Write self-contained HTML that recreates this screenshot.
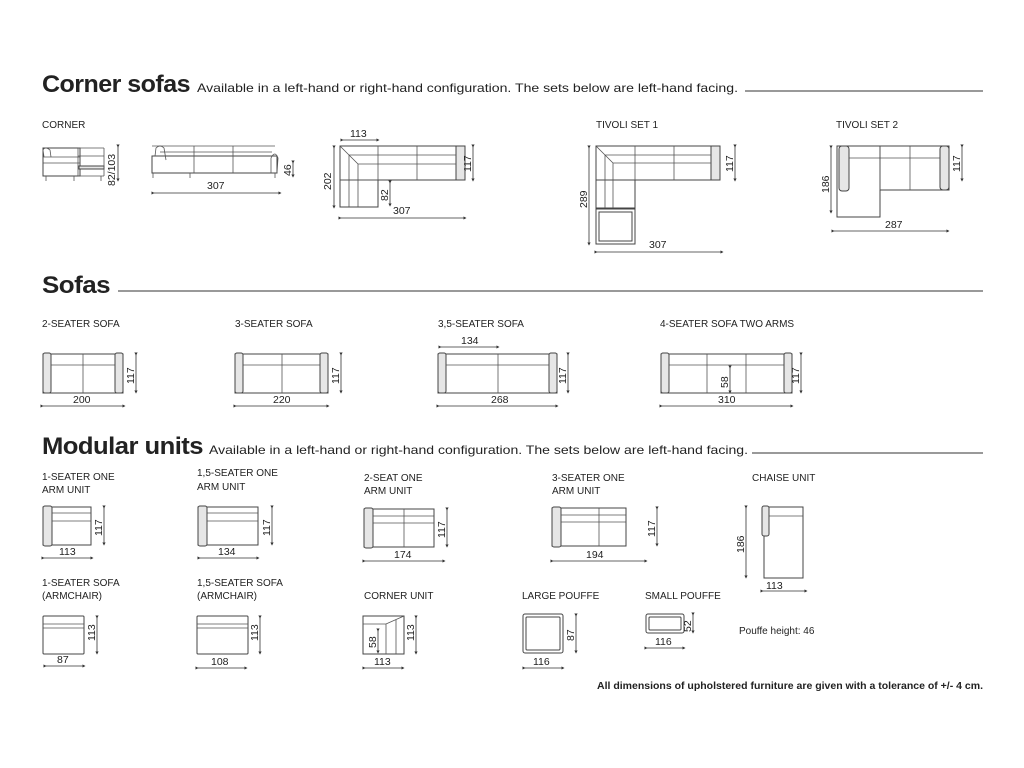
<!DOCTYPE html>
<html><head><meta charset="utf-8"><style>
body{margin:0;background:#fff}
svg{display:block}
text{font-family:"Liberation Sans",sans-serif;fill:#222}
.h{font-weight:900;font-size:24px;letter-spacing:-0.5px}
.s{font-size:12px}
.l{font-size:10px}
.n{font-size:10.5px}
.o{fill:#fff;stroke:#444;stroke-width:1}
.a{fill:#e6e6e6;stroke:#444;stroke-width:1}
.t{stroke:#555;stroke-width:0.8;fill:none}
.d{stroke:#333;stroke-width:0.8;marker-start:url(#m);marker-end:url(#m)}
</style></head><body>
<svg width="1024" height="768" viewBox="0 0 1024 768">
<defs><marker id="m" viewBox="0 0 6 6" refX="3" refY="3" markerWidth="4" markerHeight="4" orient="auto"><path d="M0,0L6,3L0,6z" fill="#333"/></marker></defs>

<text x="42" y="92" class="h" textLength="148" lengthAdjust="spacingAndGlyphs">Corner sofas</text>
<text x="197" y="92" class="s" textLength="541" lengthAdjust="spacingAndGlyphs">Available in a left-hand or right-hand configuration. The sets below are left-hand facing.</text>
<line x1="745" y1="91" x2="983" y2="91" stroke="#333"/>
<text x="42" y="293" class="h" textLength="68" lengthAdjust="spacingAndGlyphs">Sofas</text>
<line x1="118" y1="291" x2="983" y2="291" stroke="#333"/>
<text x="42" y="454" class="h" textLength="161" lengthAdjust="spacingAndGlyphs">Modular units</text>
<text x="209" y="454" class="s" textLength="539" lengthAdjust="spacingAndGlyphs">Available in a left-hand or right-hand configuration. The sets below are left-hand facing.</text>
<line x1="752" y1="453" x2="983" y2="453" stroke="#333"/>

<g class="l">
<text x="42" y="128">CORNER</text>
<text x="596" y="128">TIVOLI SET 1</text>
<text x="836" y="128">TIVOLI SET 2</text>
<text x="42" y="327">2-SEATER SOFA</text>
<text x="235" y="327">3-SEATER SOFA</text>
<text x="438" y="327">3,5-SEATER SOFA</text>
<text x="660" y="327">4-SEATER SOFA  TWO ARMS</text>
<text x="42" y="480">1-SEATER ONE</text><text x="42" y="493">ARM UNIT</text>
<text x="197" y="476">1,5-SEATER ONE</text><text x="197" y="490">ARM UNIT</text>
<text x="364" y="481">2-SEAT ONE</text><text x="364" y="494">ARM UNIT</text>
<text x="552" y="481">3-SEATER ONE</text><text x="552" y="494">ARM UNIT</text>
<text x="752" y="481">CHAISE UNIT</text>
<text x="42" y="586">1-SEATER SOFA</text><text x="42" y="599"> (ARMCHAIR)</text>
<text x="197" y="586">1,5-SEATER SOFA</text><text x="197" y="599">(ARMCHAIR)</text>
<text x="364" y="599">CORNER UNIT</text>
<text x="522" y="599">LARGE POUFFE</text>
<text x="645" y="599">SMALL POUFFE</text>
</g>
<text x="739" y="634" class="l">Pouffe height: 46</text>
<text x="597" y="689" class="l" font-weight="bold" textLength="386" lengthAdjust="spacingAndGlyphs">All dimensions of upholstered furniture are given with a tolerance of +/- 4 cm.</text>

<!-- Corner side views -->
<g>
<rect class="o" x="43" y="148" width="37" height="28"/>
<line class="t" x1="43" y1="157" x2="80" y2="157"/><line class="t" x1="43" y1="163" x2="80" y2="163"/>
<line class="t" x1="78" y1="148" x2="78" y2="176"/><rect class="a" x="79" y="166" width="25" height="3"/>
<line class="t" x1="78" y1="148" x2="104" y2="148"/><line class="t" x1="104" y1="148" x2="104" y2="176"/><line class="t" x1="78" y1="176" x2="104" y2="176"/>
<line class="t" x1="78" y1="156" x2="104" y2="156"/>
<path class="t" d="M44,157 L43,150 Q45,146 50,150 L51,157"/>
<line class="t" x1="46" y1="176" x2="46" y2="181"/><line class="t" x1="74" y1="176" x2="74" y2="181"/><line class="t" x1="101" y1="176" x2="101" y2="181"/>
<line class="d" x1="118" y1="146" x2="118" y2="180"/>
<text transform="translate(115,186) rotate(-90)" class="n">82/103</text>

<rect class="o" x="152" y="156" width="125" height="17"/>
<line class="t" x1="152" y1="146" x2="275" y2="146"/><line class="t" x1="160" y1="152" x2="272" y2="152"/>
<line class="t" x1="194" y1="146" x2="194" y2="173"/><line class="t" x1="233" y1="146" x2="233" y2="173"/>
<path class="t" d="M155,156 L156,148 Q160,144 164,148 L166,160"/>
<path class="t" d="M271,173 L271,158 Q275,150 278,158 L277,173"/>
<line class="t" x1="153" y1="173" x2="153" y2="178"/><line class="t" x1="190" y1="173" x2="190" y2="178"/><line class="t" x1="275" y1="173" x2="275" y2="178"/>
<line class="d" x1="293" y1="162" x2="293" y2="176"/>
<text transform="translate(291,176) rotate(-90)" class="n">46</text>
<line class="d" x1="153" y1="193" x2="280" y2="193"/><text x="207" y="189" class="n">307</text>
</g>

<!-- Corner top -->
<g>
<rect class="o" x="340" y="146" width="116" height="34"/>
<rect class="o" x="340" y="180" width="38" height="27"/>
<rect class="a" x="456" y="146" width="9" height="34"/>
<path class="t" d="M340,146 L358,164 L358,207 M358,164 L456,164 M349,155 L349,207 M349,155 L456,155"/>
<line class="t" x1="378" y1="146" x2="378" y2="180"/><line class="t" x1="417" y1="146" x2="417" y2="180"/>
<line class="t" x1="340" y1="180" x2="378" y2="180"/>
<line class="d" x1="342" y1="140" x2="378" y2="140"/><text x="350" y="137" class="n">113</text>
<line class="d" x1="334" y1="147" x2="334" y2="207"/><text transform="translate(331,190) rotate(-90)" class="n">202</text>
<line class="d" x1="390" y1="182" x2="390" y2="205"/><text transform="translate(388,201) rotate(-90)" class="n">82</text>
<line class="d" x1="473" y1="146" x2="473" y2="180"/><text transform="translate(471,172) rotate(-90)" class="n">117</text>
<line class="d" x1="340" y1="218" x2="465" y2="218"/><text x="393" y="214" class="n">307</text>
</g>

<!-- Tivoli 1 -->
<g>
<rect class="o" x="596" y="146" width="115" height="34"/>
<rect class="o" x="596" y="180" width="39" height="28"/>
<rect class="o" x="596" y="209" width="39" height="35"/>
<rect class="o" x="599" y="212" width="33" height="29"/>
<rect class="a" x="711" y="146" width="9" height="34"/>
<path class="t" d="M596,146 L613,163 L613,208 M613,163 L711,163 M605,155 L605,208 M605,155 L711,155"/>
<line class="t" x1="635" y1="146" x2="635" y2="180"/><line class="t" x1="674" y1="146" x2="674" y2="180"/>
<line class="d" x1="589" y1="147" x2="589" y2="244"/><text transform="translate(587,208) rotate(-90)" class="n">289</text>
<line class="d" x1="735" y1="146" x2="735" y2="180"/><text transform="translate(733,172) rotate(-90)" class="n">117</text>
<line class="d" x1="596" y1="252" x2="722" y2="252"/><text x="649" y="248" class="n">307</text>
</g>

<!-- Tivoli 2 -->
<g>
<rect class="o" x="837" y="146" width="112" height="44"/>
<rect class="o" x="837" y="146" width="43" height="71"/>
<rect class="a" x="839" y="146" width="10" height="45" rx="3"/>
<rect class="a" x="940" y="146" width="9" height="44" rx="3"/>
<line class="t" x1="849" y1="158" x2="940" y2="158"/>
<line class="t" x1="880" y1="146" x2="880" y2="190"/><line class="t" x1="910" y1="146" x2="910" y2="190"/>
<line class="d" x1="831" y1="147" x2="831" y2="212"/><text transform="translate(829,193) rotate(-90)" class="n">186</text>
<line class="d" x1="962" y1="146" x2="962" y2="180"/><text transform="translate(960,172) rotate(-90)" class="n">117</text>
<line class="d" x1="833" y1="231" x2="948" y2="231"/><text x="885" y="228" class="n">287</text>
</g>

<!-- Sofas -->
<g>
<rect class="o" x="43" y="354" width="80" height="39"/><rect class="a" x="43" y="353" width="8" height="40" rx="2"/><rect class="a" x="115" y="353" width="8" height="40" rx="2"/>
<line class="t" x1="51" y1="365" x2="115" y2="365"/><line class="t" x1="83" y1="354" x2="83" y2="393"/>
<line class="d" x1="136" y1="354" x2="136" y2="392"/><text transform="translate(134,384) rotate(-90)" class="n">117</text>
<line class="d" x1="42" y1="406" x2="124" y2="406"/><text x="73" y="403" class="n">200</text>

<rect class="o" x="235" y="354" width="93" height="39"/><rect class="a" x="235" y="353" width="8" height="40" rx="2"/><rect class="a" x="320" y="353" width="8" height="40" rx="2"/>
<line class="t" x1="243" y1="365" x2="320" y2="365"/><line class="t" x1="282" y1="354" x2="282" y2="393"/>
<line class="d" x1="341" y1="354" x2="341" y2="392"/><text transform="translate(339,384) rotate(-90)" class="n">117</text>
<line class="d" x1="235" y1="406" x2="328" y2="406"/><text x="273" y="403" class="n">220</text>

<rect class="o" x="438" y="354" width="119" height="39"/><rect class="a" x="438" y="353" width="8" height="40" rx="2"/><rect class="a" x="549" y="353" width="8" height="40" rx="2"/>
<line class="t" x1="446" y1="365" x2="549" y2="365"/><line class="t" x1="498" y1="354" x2="498" y2="393"/>
<line class="d" x1="440" y1="347" x2="498" y2="347"/><text x="461" y="344" class="n">134</text>
<line class="d" x1="568" y1="354" x2="568" y2="392"/><text transform="translate(566,384) rotate(-90)" class="n">117</text>
<line class="d" x1="438" y1="406" x2="557" y2="406"/><text x="491" y="403" class="n">268</text>

<rect class="o" x="661" y="354" width="131" height="39"/><rect class="a" x="661" y="353" width="8" height="40" rx="2"/><rect class="a" x="784" y="353" width="8" height="40" rx="2"/>
<line class="t" x1="669" y1="365" x2="784" y2="365"/><line class="t" x1="707" y1="354" x2="707" y2="393"/><line class="t" x1="746" y1="354" x2="746" y2="393"/>
<line class="d" x1="730" y1="367" x2="730" y2="392"/><text transform="translate(728,388) rotate(-90)" class="n">58</text>
<line class="d" x1="801" y1="354" x2="801" y2="392"/><text transform="translate(799,384) rotate(-90)" class="n">117</text>
<line class="d" x1="661" y1="406" x2="792" y2="406"/><text x="718" y="403" class="n">310</text>
</g>

<!-- Modular row 1 -->
<g>
<rect class="o" x="43" y="507" width="48" height="38"/><rect class="a" x="43" y="506" width="9" height="40" rx="2"/>
<line class="t" x1="52" y1="513" x2="91" y2="513"/><line class="t" x1="52" y1="521" x2="91" y2="521"/>
<line class="d" x1="104" y1="507" x2="104" y2="544"/><text transform="translate(102,536) rotate(-90)" class="n">117</text>
<line class="d" x1="43" y1="558" x2="92" y2="558"/><text x="59" y="555" class="n">113</text>

<rect class="o" x="198" y="507" width="60" height="38"/><rect class="a" x="198" y="506" width="9" height="40" rx="2"/>
<line class="t" x1="207" y1="513" x2="258" y2="513"/><line class="t" x1="207" y1="521" x2="258" y2="521"/>
<line class="d" x1="272" y1="507" x2="272" y2="544"/><text transform="translate(270,536) rotate(-90)" class="n">117</text>
<line class="d" x1="199" y1="558" x2="258" y2="558"/><text x="218" y="555" class="n">134</text>

<rect class="o" x="364" y="509" width="70" height="38"/><rect class="a" x="364" y="508" width="9" height="40" rx="2"/>
<line class="t" x1="373" y1="516" x2="434" y2="516"/><line class="t" x1="373" y1="523" x2="434" y2="523"/><line class="t" x1="404" y1="509" x2="404" y2="547"/>
<line class="d" x1="447" y1="509" x2="447" y2="546"/><text transform="translate(445,538) rotate(-90)" class="n">117</text>
<line class="d" x1="364" y1="561" x2="444" y2="561"/><text x="394" y="558" class="n">174</text>

<rect class="o" x="552" y="508" width="74" height="38"/><rect class="a" x="552" y="507" width="9" height="40" rx="2"/>
<line class="t" x1="561" y1="515" x2="626" y2="515"/><line class="t" x1="561" y1="522" x2="626" y2="522"/><line class="t" x1="599" y1="508" x2="599" y2="546"/>
<line class="d" x1="657" y1="508" x2="657" y2="545"/><text transform="translate(655,537) rotate(-90)" class="n">117</text>
<line class="d" x1="552" y1="561" x2="646" y2="561"/><text x="586" y="558" class="n">194</text>

<rect class="o" x="764" y="507" width="39" height="71"/><rect class="a" x="762" y="506" width="7" height="30" rx="2"/>
<line class="t" x1="769" y1="516" x2="803" y2="516"/>
<line class="d" x1="746" y1="507" x2="746" y2="577"/><text transform="translate(744,553) rotate(-90)" class="n">186</text>
<line class="d" x1="762" y1="591" x2="806" y2="591"/><text x="766" y="589" class="n">113</text>
</g>

<!-- Modular row 2 -->
<g>
<rect class="o" x="43" y="616" width="41" height="38" rx="1"/><line class="t" x1="43" y1="624" x2="84" y2="624"/><line class="t" x1="43" y1="628" x2="84" y2="628"/>
<line class="d" x1="97" y1="617" x2="97" y2="653"/><text transform="translate(95,641) rotate(-90)" class="n">113</text>
<line class="d" x1="45" y1="666" x2="84" y2="666"/><text x="57" y="663" class="n">87</text>

<rect class="o" x="197" y="616" width="51" height="38" rx="1"/><line class="t" x1="197" y1="624" x2="248" y2="624"/><line class="t" x1="197" y1="628" x2="248" y2="628"/>
<line class="d" x1="260" y1="617" x2="260" y2="653"/><text transform="translate(258,641) rotate(-90)" class="n">113</text>
<line class="d" x1="197" y1="668" x2="246" y2="668"/><text x="211" y="665" class="n">108</text>

<rect class="o" x="363" y="616" width="41" height="38"/>
<path class="t" d="M363,624 L386,624 L404,616 M386,624 L386,654 M396,620 L396,654"/>
<line class="d" x1="378" y1="630" x2="378" y2="652"/><text transform="translate(376,648) rotate(-90)" class="n">58</text>
<line class="d" x1="416" y1="617" x2="416" y2="653"/><text transform="translate(414,641) rotate(-90)" class="n">113</text>
<line class="d" x1="364" y1="668" x2="403" y2="668"/><text x="374" y="665" class="n">113</text>

<rect class="o" x="523" y="614" width="40" height="39" rx="2"/><rect class="o" x="526" y="617" width="34" height="33" rx="1"/>
<line class="d" x1="576" y1="615" x2="576" y2="652"/><text transform="translate(574,641) rotate(-90)" class="n">87</text>
<line class="d" x1="524" y1="668" x2="563" y2="668"/><text x="533" y="665" class="n">116</text>

<rect class="o" x="646" y="614" width="38" height="19" rx="2"/><rect class="o" x="649" y="617" width="32" height="13" rx="1"/>
<line class="d" x1="693" y1="614" x2="693" y2="632"/><text transform="translate(691,632) rotate(-90)" class="n">52</text>
<line class="d" x1="646" y1="648" x2="684" y2="648"/><text x="655" y="645" class="n">116</text>
</g>
</svg>
</body></html>
